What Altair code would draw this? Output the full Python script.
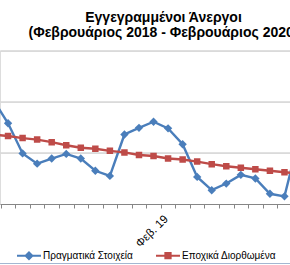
import altair as alt
import pandas as pd

# ---- data ----
months = ["Φεβ. 18", "Μαρ. 18", "Απρ. 18", "Μαΐ. 18", "Ιουν. 18", "Ιουλ. 18", "Αυγ. 18",
          "Σεπ. 18", "Οκτ. 18", "Νοε. 18", "Δεκ. 18", "Ιαν. 19", "Φεβ. 19", "Μαρ. 19",
          "Απρ. 19", "Μαΐ. 19", "Ιουν. 19", "Ιουλ. 19", "Αυγ. 19", "Σεπ. 19", "Οκτ. 19",
          "Νοε. 19", "Δεκ. 19", "Ιαν. 20", "Φεβ. 20"]
actual = [1053, 1008, 949, 929, 939, 948, 939, 915, 905, 986, 999, 1011, 998, 967,
          903, 877, 890, 907, 900, 870, 865, 979, 993, 1005, 991]
adjusted = [986, 983, 979, 976, 971, 965, 960, 958, 954, 951, 946, 944, 939, 937,
            933, 928, 924, 921, 918, 915, 912, 910, 907, 904, 902]
series_names = ["Πραγματικά Στοιχεία", "Εποχικά Διορθωμένα"]
title_lines = ["Εγγεγραμμένοι Άνεργοι", "(Φεβρουάριος 2018 - Φεβρουάριος 2020)"]
grid_values = [950, 1050, 1150]

BLUE = "#4A7EBB"
RED = "#BE4B48"
FONT = "Liberation Sans"

rows = []
for i, m in enumerate(months):
    rows.append({"idx": i, "month": m, "series": series_names[0], "value": actual[i]})
    rows.append({"idx": i, "month": m, "series": series_names[1], "value": adjusted[i]})
df = pd.DataFrame(rows)

label_js = "[" + ",".join("'" + m + "'" for m in months) + "]"

xscale = alt.Scale(domain=[0.447, 20.38], nice=False, zero=False)
yscale = alt.Scale(domain=[850, 1150], nice=False, zero=False)

tick_vals = [i + 0.5 for i in range(-1, len(months))] + [0, 12, 24]
xaxis = alt.Axis(
    values=tick_vals,
    labelExpr=f"(datum.value % 12 == 0) ? {label_js}[datum.value] : ''",
    labelAngle=-45, labelAlign="right", labelBaseline="middle",
    labelFont=FONT, labelFontSize=11.5, labelColor="black",
    labelPadding=9, labelOffset=-2, labelOverlap=False, labelBound=False, labelFlush=False,
    tickColor={"condition": {"test": "datum.value % 1 == 0", "value": "transparent"}, "value": "#868686"},
    tickSize=4, domainColor="#868686", domainWidth=1, grid=False, title=None,
)
yaxis = alt.Axis(values=grid_values, grid=True, gridColor="#d9d9d9", gridWidth=1,
                 labels=False, ticks=False, domain=False, title=None)

cscale = alt.Scale(domain=series_names, range=[BLUE, RED])

base = alt.Chart(df).encode(
    x=alt.X("idx:Q", scale=xscale, axis=xaxis),
    y=alt.Y("value:Q", scale=yscale, axis=yaxis),
)

lines = base.mark_line(strokeWidth=2.4, clip=True).encode(
    color=alt.Color("series:N", scale=cscale, legend=None),
)

points = base.mark_point(filled=True, opacity=1, clip=True).encode(
    color=alt.Color("series:N", scale=cscale, legend=None),
    shape=alt.Shape("series:N", scale=alt.Scale(domain=series_names, range=["diamond", "square"]), legend=None),
    size=alt.Size("series:N", scale=alt.Scale(domain=series_names, range=[70, 42]), legend=None),
)

paths = [
    "M-1,0H1M0,-0.28L0.28,0L0,0.28L-0.28,0ZM0,-0.12L0.12,0L0,0.12L-0.12,0Z",
    "M-1,0H1M-0.22,-0.22H0.22V0.22H-0.22ZM-0.08,-0.08H0.08V0.08H-0.08Z",
]
colors = [BLUE, RED]
legend_x = [16, 155]


def legend_layer(k):
    return base.mark_point(filled=False, stroke=colors[k], strokeWidth=2,
                           size=576, clip=True).encode(
        shape=alt.Shape("series:N",
                        scale=alt.Scale(domain=[series_names[k]], range=[paths[k]]),
                        legend=alt.Legend(
                            orient="none", legendX=legend_x[k], legendY=192, title=None,
                            padding=0, symbolSize=576, symbolStrokeWidth=2,
                            symbolStrokeColor=colors[k],
                            symbolOpacity=1, labelOffset=1,
                            labelFont=FONT, labelFontSize=10, labelColor="black",
                            labelLimit=300,
                        )),
    ).transform_filter(f"datum.series == '{series_names[k]}' && datum.idx < 0")


border = alt.Chart(alt.Data(values=[{"a": 1}])).mark_rule(
    color="#a3b7d1", strokeWidth=1, clip=False
).encode(
    x=alt.value(0), x2=alt.value(290),
    y=alt.Y("a:Q", scale=alt.Scale(domain=[0, 1], range=[-50.2, 212.8]), axis=None),
)

chart = alt.layer(lines, points, legend_layer(0), legend_layer(1), border).resolve_scale(
    shape="independent", y="independent"
).properties(
    width=290, height=153.3,
    padding={"left": 0, "top": 50.7, "right": 0, "bottom": 61},
    autosize=alt.AutoSizeParams(type="none"),
    title=alt.TitleParams(text=title_lines, font=FONT, fontSize=14,
                          fontWeight="bold", color="black", anchor="middle",
                          frame="group", dx=18.5, offset=11, lineHeight=15),
).configure_view(stroke=None).configure(background="white")

chart.save("out.html", embed_options={"renderer": "svg", "actions": False})
